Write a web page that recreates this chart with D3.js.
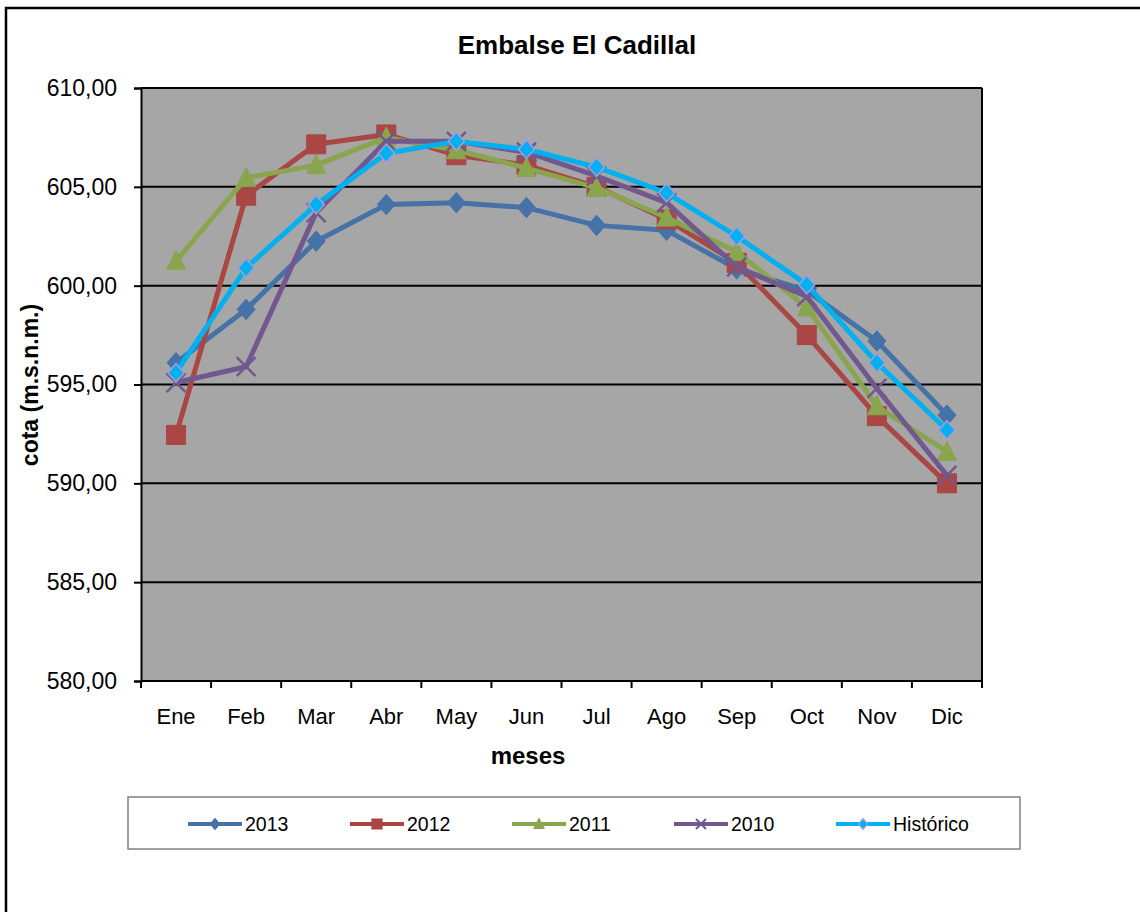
<!DOCTYPE html>
<html><head><meta charset="utf-8">
<script src="https://cdn.jsdelivr.net/npm/d3@7"></script>
<style>html,body{margin:0;padding:0;background:#fff;}svg{display:block;font-family:"Liberation Sans",Arial,sans-serif;}</style>
</head><body>
<svg id="chart" width="1140" height="912"></svg>
<script>
const months = ["Ene","Feb","Mar","Abr","May","Jun","Jul","Ago","Sep","Oct","Nov","Dic"];
const yTicks = [580,585,590,595,600,605,610];
const v2013 = [596.1, 598.8, 602.25, 604.1, 604.2, 603.95, 603.05, 602.8, 600.85, 599.75, 597.2, 593.45];
const v2012 = [592.45, 604.55, 607.15, 607.65, 606.6, 606.1, 605.0, 603.35, 601.15, 597.5, 593.4, 590.0];
const v2011 = [601.25, 605.45, 606.1, 607.5, 606.85, 605.95, 604.95, 603.45, 601.7, 598.9, 593.9, 591.6];
const v2010 = [595.1, 595.9, 603.7, 607.3, 607.3, 606.75, 605.55, 604.2, 600.95, 599.45, 594.8, 590.4];
const vHist = [595.6, 600.9, 604.1, 606.7, 607.3, 606.9, 606.0, 604.7, 602.5, 600.05, 596.1, 592.7];
const seriesNames = ["2013","2012","2011","2010","Histórico"];

const series = [
  {name: seriesNames[0], values: v2013, color:"#4573A7", marker:"diamond", fill:"#4573A7", stroke:"#4573A7"},
  {name: seriesNames[1], values: v2012, color:"#AA4643", marker:"square", fill:"#AA4643", stroke:"#AA4643"},
  {name: seriesNames[2], values: v2011, color:"#89A54E", marker:"triangle", fill:"#89A54E", stroke:"#89A54E"},
  {name: seriesNames[3], values: v2010, color:"#71588F", marker:"x", fill:"none", stroke:"#71588F"},
  {name: seriesNames[4], values: vHist, color:"#00B0F0", marker:"diamond2", fill:"#00B0F0", stroke:"#A99BD8"}
];

const svg = d3.select("#chart");
const plot = {l:141, r:982, t:88, b:681};

// outer border
svg.append("rect").attr("x",6).attr("y",8).attr("width",1300).attr("height",1100)
  .attr("fill","#fff").attr("stroke","#000").attr("stroke-width",2.5);

const x = d3.scaleBand().domain(months).range([plot.l, plot.r]).padding(0);
const y = d3.scaleLinear().domain([580,610]).range([plot.b, plot.t]);
const loc = d3.formatLocale({decimal:",", thousands:".", grouping:[3], currency:["","€"]});
const fmt = loc.format(".2f");

svg.append("rect").attr("x",plot.l).attr("y",plot.t).attr("width",plot.r-plot.l).attr("height",plot.b-plot.t)
  .attr("fill","#A6A6A6");

// gridlines
svg.append("g").selectAll("line").data(yTicks).join("line")
  .attr("x1",plot.l).attr("x2",plot.r).attr("y1",d=>y(d)).attr("y2",d=>y(d))
  .attr("stroke","#000").attr("stroke-width",2);
// right border
svg.append("line").attr("x1",plot.r).attr("x2",plot.r).attr("y1",plot.t).attr("y2",plot.b)
  .attr("stroke","#000").attr("stroke-width",2);

// y axis
const yAxis = d3.axisLeft(y).tickValues(yTicks).tickFormat(fmt).tickSize(7).tickPadding(17);
const gy = svg.append("g").attr("transform",`translate(${plot.l},0)`).call(yAxis);
gy.select(".domain").attr("stroke","#000").attr("stroke-width",2);
gy.selectAll(".tick line").attr("stroke","#000").attr("stroke-width",2);
gy.selectAll("text").attr("font-size",23).attr("fill","#000").attr("font-family","Liberation Sans, Arial, sans-serif");

// x axis
const xAxis = d3.axisBottom(x).tickSize(0).tickPadding(27);
const gx = svg.append("g").attr("transform",`translate(0,${plot.b})`).call(xAxis);
gx.select(".domain").attr("stroke","#000").attr("stroke-width",2).attr("d",`M${plot.l},0H${plot.r}`);
gx.selectAll("text").attr("font-size",22).attr("fill","#000").attr("font-family","Liberation Sans, Arial, sans-serif");
const edges = months.map(m=>x(m)).concat([x(months[months.length-1])+x.bandwidth()]);
svg.append("g").selectAll("line").data(edges).join("line")
  .attr("x1",d=>d).attr("x2",d=>d).attr("y1",plot.b).attr("y2",plot.b+7)
  .attr("stroke","#000").attr("stroke-width",2);

// titles
svg.append("text").attr("x",577).attr("y",54).attr("text-anchor","middle")
  .attr("font-size",26).attr("font-weight","bold").text("Embalse El Cadillal");
svg.append("text").attr("x",528).attr("y",764).attr("text-anchor","middle")
  .attr("font-size",24).attr("font-weight","bold").text("meses");
svg.append("text").attr("transform","translate(38,385) rotate(-90)").attr("text-anchor","middle")
  .attr("font-size",23).attr("font-weight","bold").text("cota (m.s.n.m.)");

function markerPath(type, s){
  const h = s/2;
  switch(type){
    case "diamond": case "diamond2": return `M0,${-h*1.08}L${h*0.95},0L0,${h*1.08}L${-h*0.95},0Z`;
    case "square": return `M${-h},${-h}H${h}V${h}H${-h}Z`;
    case "triangle": return `M0,${-h*1.1}L${h},${h*0.9}L${-h},${h*0.9}Z`;
    case "x": return `M${-h},${-h}L${h},${h}M${-h},${h}L${h},${-h}`;
  }
}
const line = d3.line().x((d,i)=>x(months[i])+x.bandwidth()/2).y(d=>y(d));

series.forEach(s=>{
  const g = svg.append("g");
  g.append("path").datum(s.values).attr("d",line).attr("fill","none")
    .attr("stroke",s.color).attr("stroke-width",5).attr("stroke-linejoin","round");
  const size = s.marker==="diamond2" ? 17 : 19;
  g.selectAll("path.m").data(s.values).join("path").attr("class","m")
    .attr("transform",(d,i)=>`translate(${x(months[i])+x.bandwidth()/2},${y(d)})`)
    .attr("d",markerPath(s.marker,size))
    .attr("fill",s.fill).attr("stroke",s.stroke)
    .attr("stroke-width", s.marker==="x"?2.5:(s.marker==="diamond2"?1.5:1));
});

// legend
const lg = svg.append("g");
lg.append("rect").attr("x",128).attr("y",797).attr("width",892).attr("height",52)
  .attr("fill","#fff").attr("stroke","#808080").attr("stroke-width",1.5);
const legX = [188, 350, 512, 674, 836];
series.forEach((s,i)=>{
  const x0 = legX[i], cy = 824;
  lg.append("line").attr("x1",x0).attr("x2",x0+54).attr("y1",cy).attr("y2",cy)
    .attr("stroke",s.color).attr("stroke-width",4);
  lg.append("path").attr("transform",`translate(${x0+27},${cy})`)
    .attr("d",markerPath(s.marker,10)).attr("fill",s.fill).attr("stroke",s.stroke)
    .attr("stroke-width", s.marker==="x"?2:1.2);
  lg.append("text").attr("x",x0+57).attr("y",cy+7).attr("font-size",19.5).text(s.name);
});
</script>
</body></html>
